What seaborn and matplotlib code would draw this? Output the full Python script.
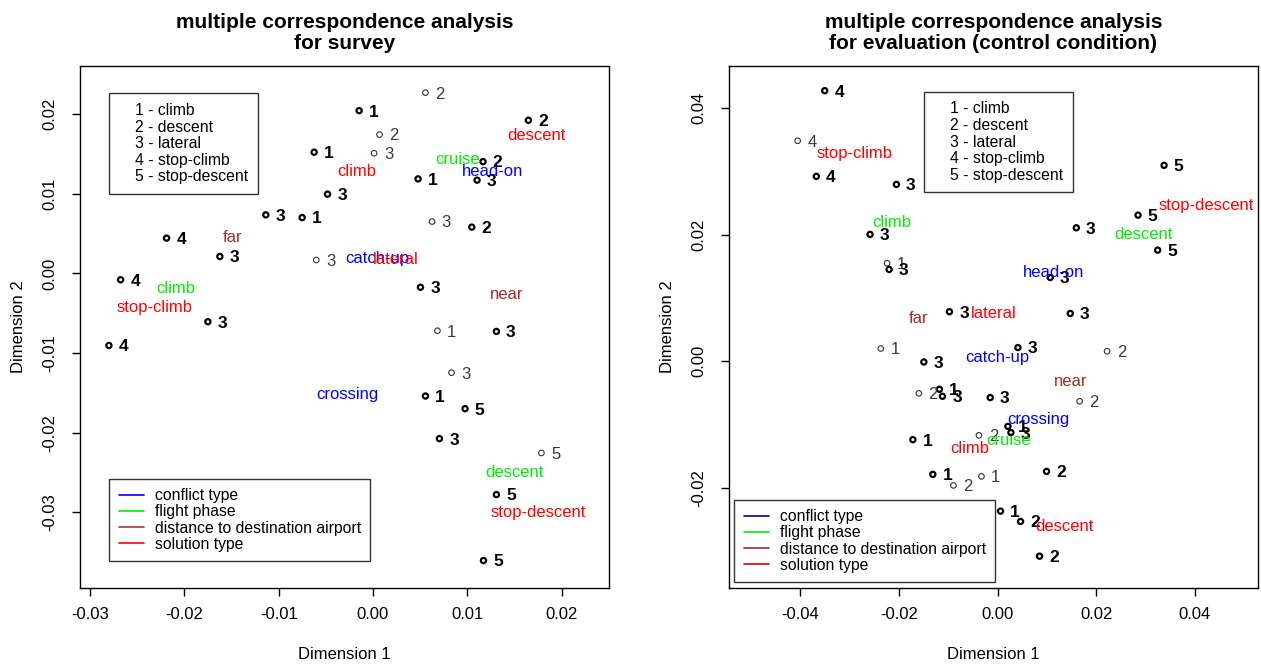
import pandas as pd
import seaborn as sns
import matplotlib.pyplot as plt
from matplotlib.lines import Line2D

# ---- survey: answer points (bold = black markers, grey = thin markers)
survey_bold_x = [-0.00624, -0.00482, -0.01136, -0.00751, -0.02188, -0.01623, -0.02675, -0.01750,
                 -0.02799, -0.00147, 0.01647, 0.01166, 0.00478, 0.01103, 0.01047, 0.00503,
                 0.01308, 0.00556, 0.00976, 0.00704, 0.01308, 0.01171]
survey_bold_y = [0.01522, 0.00995, 0.00735, 0.00701, 0.00443, 0.00212, -0.00080, -0.00607,
                 -0.00905, 0.02044, 0.01923, 0.01404, 0.01187, 0.01171, 0.00581, -0.00174,
                 -0.00729, -0.01540, -0.01699, -0.02075, -0.02778, -0.03606]
survey_bold_lab = [1, 3, 3, 1, 4, 3, 4, 3, 4, 1, 2, 2, 1, 3, 2, 3, 3, 1, 5, 3, 5, 5]

survey_grey_x = [0.00556, 0.00069, 0.00012, 0.00626, -0.00601, 0.00683, 0.00832, 0.01785]
survey_grey_y = [0.02270, 0.01743, 0.01509, 0.00651, 0.00168, -0.00720, -0.01247, -0.02255]
survey_grey_lab = [2, 2, 3, 3, 3, 1, 3, 5]

# ---- survey: category coordinates
survey_cat_name = ["far", "climb", "stop-climb", "descent", "cruise", "climb", "head-on",
                   "catch-up", "lateral", "near", "crossing", "descent", "stop-descent"]
survey_cat_var = ["distance", "phase", "solution", "solution", "phase", "solution", "conflict",
                  "conflict", "solution", "distance", "conflict", "phase", "solution"]
survey_cat_x = [-0.01493, -0.02089, -0.02311, 0.01732, 0.00901, -0.00175, 0.01272,
                0.00043, 0.00242, 0.01421, -0.00274, 0.01502, 0.01756]
survey_cat_y = [0.00450, -0.00184, -0.00428, 0.01730, 0.01425, 0.01275, 0.01275,
                0.00192, 0.00171, -0.00265, -0.01523, -0.02506, -0.03000]

# ---- evaluation (control condition): answer points
eval_bold_x = [-0.03502, -0.03672, -0.02049, -0.02583, -0.02197, -0.00974, 0.03376, 0.02848,
               0.01597, 0.03246, 0.01069, 0.01475, 0.00414, -0.01493, -0.01177, -0.01116,
               -0.00148, 0.00211, 0.00272, -0.01716, -0.01311, 0.00994, 0.00061, 0.00467, 0.00852]
eval_bold_y = [0.04270, 0.02918, 0.02791, 0.02002, 0.01449, 0.00782, 0.03092, 0.02306,
               0.02106, 0.01754, 0.01322, 0.00754, 0.00216, -0.00011, -0.00442, -0.00553,
               -0.00573, -0.01027, -0.01126, -0.01237, -0.01785, -0.01738, -0.02365, -0.02528, -0.03076]
eval_bold_lab = [4, 4, 3, 3, 3, 3, 5, 5, 3, 5, 3, 3, 3, 3, 1, 3, 3, 1, 3, 1, 1, 2, 1, 2, 2]

eval_grey_x = [-0.04050, -0.02238, -0.02366, -0.01595, 0.02220, 0.01664, -0.00377, -0.00325, -0.00893]
eval_grey_y = [0.03480, 0.01548, 0.00201, -0.00506, 0.00158, -0.00632, -0.01169, -0.01817, -0.01959]
eval_grey_lab = [4, 1, 1, 2, 2, 2, 2, 1, 2]

eval_cat_name = ["stop-climb", "climb", "far", "lateral", "stop-descent", "descent", "head-on",
                 "catch-up", "near", "crossing", "cruise", "climb", "descent"]
eval_cat_var = ["solution", "phase", "distance", "solution", "solution", "phase", "conflict",
                "conflict", "distance", "conflict", "phase", "solution", "solution"]
eval_cat_x = [-0.02887, -0.02142, -0.01603, -0.00081, 0.04234, 0.02950, 0.01136,
              -0.00012, 0.01489, 0.00832, 0.00223, -0.00554, 0.01359]
eval_cat_y = [0.03281, 0.02191, 0.00671, 0.00750, 0.02453, 0.02002, 0.01401,
              0.00052, -0.00327, -0.00916, -0.01248, -0.01370, -0.02607]

solution_legend = ["1 - climb", "2 - descent", "3 - lateral", "4 - stop-climb", "5 - stop-descent"]
variable_legend = ["conflict type", "flight phase", "distance to destination airport", "solution type"]

var_colour = {"conflict": "#0000ff", "phase": "#00ee00", "distance": "#a52a2a", "solution": "#ff0000"}

sns.set_style("white")
plt.rcParams['font.family'] = ['Liberation Sans', 'DejaVu Sans']
plt.rcParams.update({"text.color": "black", "axes.labelcolor": "black",
                     "xtick.color": "black", "ytick.color": "black"})

fig, axes = plt.subplots(1, 2, figsize=(12.61, 6.65), dpi=100)
fig.subplots_adjust(left=0.0634, right=0.9976, bottom=0.1158, top=0.9008, wspace=0.2268)


def draw_panel(ax, bx, by, blab, gx, gy, glab, cname, cvar, cx, cy, title):
    bold = pd.DataFrame({"x": bx, "y": by, "lab": blab})
    grey = pd.DataFrame({"x": gx, "y": gy, "lab": glab})
    cats = pd.DataFrame({"name": cname, "var": cvar, "x": cx, "y": cy})

    sns.scatterplot(data=grey, x="x", y="y", ax=ax, marker="o", s=16,
                    facecolor="none", edgecolor="#333333", linewidth=0.8, zorder=3)
    sns.scatterplot(data=bold, x="x", y="y", ax=ax, marker="o", s=14,
                    facecolor="none", edgecolor="black", linewidth=1.6, zorder=3)

    for x, y, lab in zip(grey["x"], grey["y"], grey["lab"]):
        ax.annotate(str(int(lab)), (x, y), xytext=(7, -1), textcoords="offset points",
                    ha="left", va="center", fontsize=12, color="#3a3a3a")
    for x, y, lab in zip(bold["x"], bold["y"], bold["lab"]):
        ax.annotate(str(int(lab)), (x, y), xytext=(7, -1), textcoords="offset points",
                    ha="left", va="center", fontsize=12.5, fontweight="bold", color="black")
    for name, var, x, y in zip(cats["name"], cats["var"], cats["x"], cats["y"]):
        ax.text(x, y, name, color=var_colour[var], ha="center", va="center",
                fontsize=12, zorder=4)

    ax.set_title(title, fontsize=15, fontweight="bold", pad=12, linespacing=1.15)
    ax.set_xlabel("Dimension 1", fontsize=12, labelpad=18)
    ax.set_ylabel("Dimension 2", fontsize=12, labelpad=12)

    # legend of solution numbers (text only)
    blank = [Line2D([], [], linestyle="none") for _ in solution_legend]
    leg1 = ax.legend(blank, solution_legend, loc="upper left", fontsize=11.3, frameon=True,
                     fancybox=False, handlelength=0.75, handletextpad=0.3, borderpad=0.62,
                     labelspacing=0.1, borderaxespad=0)
    leg1.get_frame().set_edgecolor("black")
    leg1.get_frame().set_linewidth(1)
    ax.add_artist(leg1)
    return leg1


ax1, ax2 = axes
leg = draw_panel(ax1, survey_bold_x, survey_bold_y, survey_bold_lab, survey_grey_x, survey_grey_y,
                 survey_grey_lab, survey_cat_name, survey_cat_var, survey_cat_x, survey_cat_y,
                 "multiple correspondence analysis\nfor survey")
leg.set_bbox_to_anchor((0.0554, 0.9477), transform=ax1.transAxes)
leg = draw_panel(ax2, eval_bold_x, eval_bold_y, eval_bold_lab, eval_grey_x, eval_grey_y,
                 eval_grey_lab, eval_cat_name, eval_cat_var, eval_cat_x, eval_cat_y,
                 "multiple correspondence analysis\nfor evaluation (control condition)")
leg.set_bbox_to_anchor((0.3684, 0.9507), transform=ax2.transAxes)

# variable legends (coloured lines)
left_cols = ["#0000ff", "#00ee00", "#b03a3a", "#ff0000"]
right_cols = ["#0000aa", "#00ee00", "#a52a2a", "#dd0000"]
for ax, cols, anchor in [(ax1, left_cols, (0.0554, 0.0513)), (ax2, right_cols, (0.010, 0.0111))]:
    handles = [Line2D([], [], color=c, linewidth=1.2) for c in cols]
    lg = ax.legend(handles, variable_legend, loc="lower left", bbox_to_anchor=anchor,
                   fontsize=11.3, frameon=True, fancybox=False, handlelength=1.6,
                   handletextpad=0.7, borderpad=0.6, labelspacing=0.08, borderaxespad=0)
    lg.get_frame().set_edgecolor("black")
    lg.get_frame().set_linewidth(1)

ax1.set_xlim(-0.03106, 0.02501)
ax1.set_ylim(-0.03951, 0.02605)
ax1.set_xticks([-0.03, -0.02, -0.01, 0.00, 0.01, 0.02])
ax1.set_yticks([-0.03, -0.02, -0.01, 0.00, 0.01, 0.02])
ax2.set_xlim(-0.05443, 0.05279)
ax2.set_ylim(-0.03578, 0.0466)
ax2.set_xticks([-0.04, -0.02, 0.00, 0.02, 0.04])
ax2.set_yticks([-0.02, 0.00, 0.02, 0.04])

for ax in axes:
    ax.set_xticklabels([f"{v:.2f}" for v in ax.get_xticks()])
    ax.set_yticklabels([f"{v:.2f}" for v in ax.get_yticks()], rotation=90, va="center")
    ax.tick_params(axis="both", which="major", direction="out", length=6, width=1,
                   labelsize=12, bottom=True, left=True, pad=8)
    ax.tick_params(axis="y", pad=10)
    for s in ax.spines.values():
        s.set_color("black")
        s.set_linewidth(1)

fig.savefig("out.png", dpi=100)
